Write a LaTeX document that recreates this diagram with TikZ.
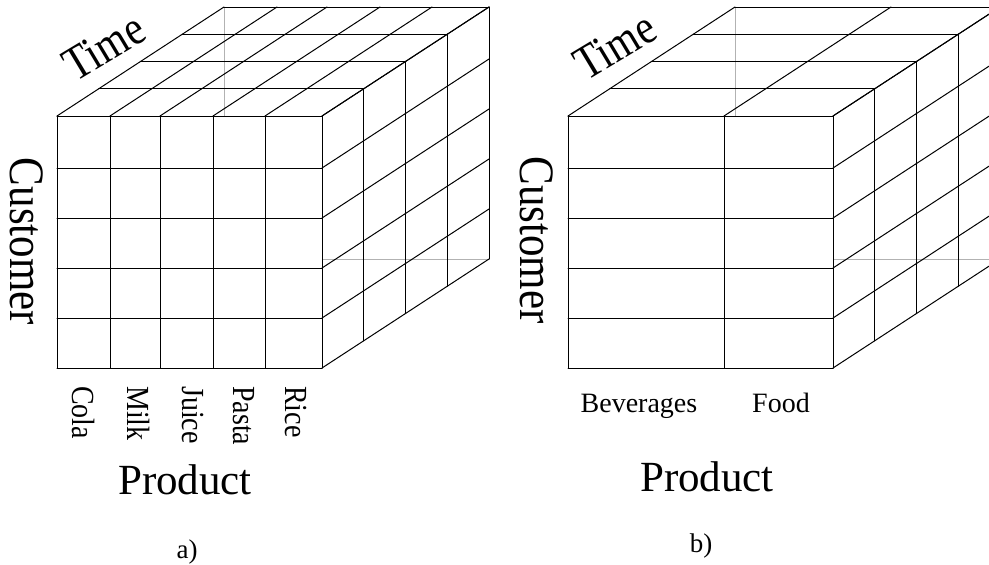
\documentclass[tikz,border=0pt]{standalone}
\usepackage{fontspec}
\setmainfont{Liberation Serif}
\newcommand\mycube[3]{%
  \draw[hidden] (#1+167,7) -- (#1+167,259) -- (#2+167,259);
  \fill[white] (#1,116) rectangle (#2,368);
  \foreach \yy in {116,168,218,268,318,368}{%
    \draw[edge] (#1,\yy) -- (#2,\yy);
    \draw[edge] (#2,\yy) -- ++(167,-109);}
  \foreach \xx in {#3}{%
    \draw[edge] (\xx,116) -- (\xx,368);
    \draw[edge] (\xx,116) -- ++(167,-109);}
  \foreach \kk in {1,...,4}{%
    \draw[edge] (#1+\kk*41.75,116-\kk*27.25) -- ++(#2-#1,0);
    \draw[edge] (#2+\kk*41.75,116-\kk*27.25) -- ++(0,252);}
}
\begin{document}
\begin{tikzpicture}[x=1pt,y=-1pt,
  edge/.style={black, line width=1pt, line cap=round},
  hidden/.style={black!30, line width=1pt},
  big/.style={font=\fontsize{43}{43}\selectfont, inner sep=0pt},
  timefont/.style={font=\fontsize{41}{41}\selectfont, inner sep=0pt},
  small/.style={font=\fontsize{28}{28}\selectfont, inner sep=0pt},
  caption/.style={font=\fontsize{27}{27}\selectfont, inner sep=0pt}]
\useasboundingbox (0,0) rectangle (989,565);
\begin{scope}
\clip (0,0) rectangle (989,565);
% cube a
\mycube{57}{322}{57,110,160,213,265,322}
% cube b
\mycube{568}{833}{568,724,833}
\end{scope}
% labels cube a
\node[timefont, rotate=31, yscale=1.18] (timeA) at (104,47) {Time};
\node[big, rotate=-90, yscale=1.15] (custA) at (26.5,241.5) {Customer};
\node[small, rotate=-90, yscale=1.15, anchor=west] (cola) at (83.5,386) {Cola};
\node[small, rotate=-90, yscale=1.15, anchor=west] (milk) at (139,386) {Milk};
\node[small, rotate=-90, yscale=1.15, anchor=west] (juice) at (193,386) {Juice};
\node[small, rotate=-90, yscale=1.15, anchor=west] (pasta) at (244,386) {Pasta};
\node[small, rotate=-90, yscale=1.15, anchor=west] (rice) at (296,386) {Rice};
\node[big, anchor=base] (prodA) at (185,494) {Product};
\node[caption] (capA) at (187,552) {a)};
% labels cube b
\node[timefont, rotate=31, yscale=1.18] (timeB) at (615,46) {Time};
\node[big, rotate=-90, yscale=1.15] (custB) at (537,240) {Customer};
\node[small, anchor=base] (bev) at (639,412) {Beverages};
\node[small, anchor=base] (food) at (781,412) {Food};
\node[big, anchor=base] (prodB) at (707,491) {Product};
\node[caption] (capB) at (701,546) {b)};
\end{tikzpicture}
\end{document}
